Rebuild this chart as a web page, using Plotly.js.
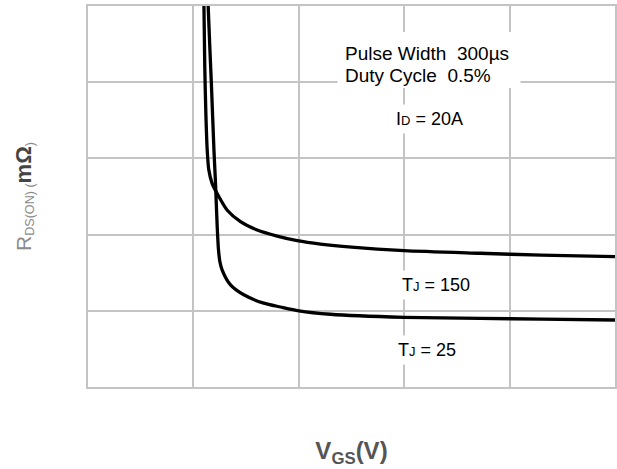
<!DOCTYPE html>
<html>
<head>
<meta charset="utf-8">
<script src="https://cdn.plot.ly/plotly-3.0.1.min.js"></script>
<style>html,body{margin:0;padding:0;background:#fff;}#chart{width:617px;height:469px;}</style>
</head>
<body>
<div id="chart"></div>
<script>
// VGS (grid units) vs RDS(ON) (grid units) — no tick values shown in the reference
const vgs150 = [1.095, 1.100, 1.108, 1.118, 1.131, 1.146, 1.178, 1.241, 1.321, 1.447, 1.605, 1.795, 1.985, 2.206, 2.5, 3.0, 3.72, 4.3, 5.0];
const rds150 = [5.3, 5.0, 4.2, 3.6, 3.11, 2.85, 2.67, 2.50, 2.32, 2.17, 2.06, 1.98, 1.92, 1.875, 1.835, 1.79, 1.755, 1.73, 1.71];
const vgs25 = [1.137, 1.140, 1.170, 1.195, 1.210, 1.226, 1.238, 1.252, 1.273, 1.352, 1.478, 1.668, 1.826, 2.0, 2.3, 3.0, 3.72, 4.3, 5.0];
const rds25 = [5.3, 5.0, 4.0, 3.11, 2.67, 2.10, 1.80, 1.64, 1.535, 1.34, 1.21, 1.10, 1.05, 1.00, 0.955, 0.915, 0.90, 0.892, 0.879];

const labelText = {
  pulse: 'Pulse Width  300µs',
  duty: 'Duty Cycle  0.5%',
  id: 'I<span style="font-size:13px">D</span> = 20A',
  tj150: 'T<span style="font-size:13px">J</span> = 150',
  tj25: 'T<span style="font-size:13px">J</span> = 25'
};

const lineStyle = {color: '#000', width: 3.3, shape: 'spline', smoothing: 0.7};

const traces = [
  {x: vgs150, y: rds150, mode: 'lines', line: lineStyle, name: 'TJ = 150', hoverinfo: 'skip'},
  {x: vgs25, y: rds25, mode: 'lines', line: lineStyle, name: 'TJ = 25', hoverinfo: 'skip'}
];

const gridCol = '#c4c4c4';
const fam = 'Arial, "Liberation Sans", sans-serif';
const font = {family: fam, size: 18, color: '#000'};
const pulseFont = {family: fam, size: 19, color: '#000'};

const layout = {
  width: 617, height: 469,
  margin: {l: 88, r: 2, t: 6, b: 82},
  paper_bgcolor: '#fff', plot_bgcolor: '#fff',
  showlegend: false,
  font: font,
  xaxis: {
    range: [0, 5], dtick: 1, tick0: 0, showticklabels: false, ticks: '',
    showgrid: true, gridcolor: gridCol, gridwidth: 2, zeroline: false,
    showline: true, linecolor: gridCol, linewidth: 2, mirror: true,
    title: {text: '<b>V<sub>GS</sub>(V)</b>', font: {family: fam, size: 24, color: '#555'}, standoff: 54}
  },
  yaxis: {
    range: [0, 5], dtick: 1, tick0: 0, showticklabels: false, ticks: '',
    showgrid: true, gridcolor: gridCol, gridwidth: 2, zeroline: false,
    showline: true, linecolor: gridCol, linewidth: 2, mirror: true,
    title: {text: '<span style="font-size:21px">R</span><sub>DS(ON) (</sub><b style="font-size:22px;color:#444">mΩ</b><sub>)</sub>', font: {family: fam, size: 18, color: '#8a8a8a'}, standoff: 50}
  },
  shapes: [
    {type: 'rect', xref: 'x', yref: 'y', x0: 2.367, x1: 4.103, y0: 3.924, y1: 4.659, fillcolor: '#fff', line: {width: 0}, layer: 'between'}
  ],
  annotations: [
    {xref: 'x', yref: 'y', x: 2.42, y: 4.383, text: labelText.pulse, showarrow: false, xanchor: 'left', yanchor: 'middle', align: 'left', font: pulseFont},
    {xref: 'x', yref: 'y', x: 2.42, y: 4.094, text: labelText.duty, showarrow: false, xanchor: 'left', yanchor: 'middle', align: 'left', font: pulseFont},
    {xref: 'x', yref: 'y', x: 3.24, y: 3.52, text: labelText.id, showarrow: false, bgcolor: '#fff', borderpad: 4, font: font},
    {xref: 'x', yref: 'y', x: 3.30, y: 1.34, text: labelText.tj150, showarrow: false, bgcolor: '#fff', borderpad: 4, font: font},
    {xref: 'x', yref: 'y', x: 3.22, y: 0.49, text: labelText.tj25, showarrow: false, bgcolor: '#fff', borderpad: 4, font: font}
  ]
};

Plotly.newPlot('chart', traces, layout, {staticPlot: true, displayModeBar: false});
</script>
</body>
</html>
